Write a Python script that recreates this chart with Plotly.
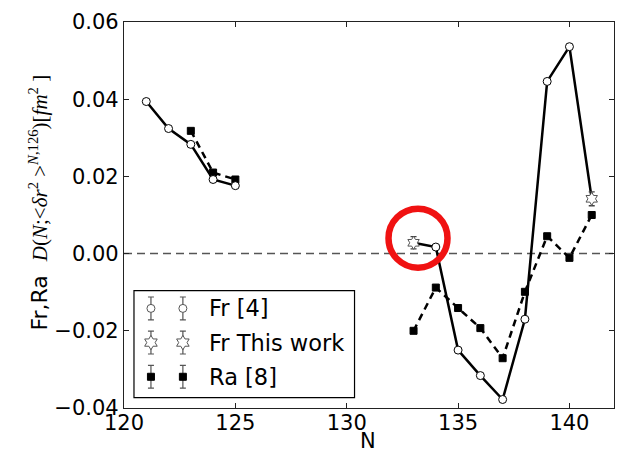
import plotly.graph_objects as go

# ---------------- data ----------------
fr_n = [121, 122, 123, 124, 125, 134, 135, 136, 137, 138, 139, 140]
fr_d = [0.0394, 0.0324, 0.0283, 0.0192, 0.0176, 0.0017, -0.0250, -0.0316, -0.0378, -0.0170, 0.0446, 0.0536]

tw_n = [133, 141]
tw_d = [0.0028, 0.0142]
tw_err = [0.0016, 0.0018]

ra_n = [123, 124, 125, 133, 134, 135, 136, 137, 138, 139, 140, 141]
ra_d = [0.0318, 0.0210, 0.0192, -0.0200, -0.0088, -0.0141, -0.0193, -0.0271, -0.0099, 0.0045, -0.0011, 0.0100]

x_ticks = [120, 125, 130, 135, 140]
y_ticks = [-0.04, -0.02, 0.00, 0.02, 0.04, 0.06]
y_ticklabels = ["\u22120.04", "\u22120.02", "0.00", "0.02", "0.04", "0.06"]

legend_labels = ["Fr [4]", "Fr This work", "Ra [8]"]

FONT = "DejaVu Sans"


def with_gaps(xs, ys):
    ox, oy = [], []
    for i, (a, b) in enumerate(zip(xs, ys)):
        if i > 0 and a - xs[i - 1] > 1:
            ox.append(None)
            oy.append(None)
        ox.append(a)
        oy.append(b)
    return ox, oy


fr_all = sorted(zip(fr_n + tw_n, fr_d + tw_d))
fr_line_x, fr_line_y = with_gaps([p[0] for p in fr_all], [p[1] for p in fr_all])
ra_line_x, ra_line_y = with_gaps(ra_n, ra_d)

fig = go.Figure()

# Ra dashed line + markers
fig.add_trace(go.Scatter(x=ra_line_x, y=ra_line_y, mode="lines",
                         line=dict(color="black", width=2.5, dash="7px,5px"),
                         showlegend=False, hoverinfo="skip"))
fig.add_trace(go.Scatter(x=ra_n, y=ra_d, mode="markers",
                         marker=dict(symbol="square", size=7, color="black",
                                     line=dict(color="black", width=1)),
                         showlegend=False))
# Fr solid line + markers
fig.add_trace(go.Scatter(x=fr_line_x, y=fr_line_y, mode="lines",
                         line=dict(color="black", width=2.5),
                         showlegend=False, hoverinfo="skip"))
fig.add_trace(go.Scatter(x=fr_n, y=fr_d, mode="markers",
                         marker=dict(symbol="circle", size=8, color="white",
                                     line=dict(color="black", width=1)),
                         showlegend=False))
# This work stars with error bars
fig.add_trace(go.Scatter(x=tw_n, y=tw_d, mode="markers",
                         error_y=dict(type="data", array=tw_err, color="#444444",
                                      thickness=1.3, width=3),
                         marker=dict(symbol="hexagram", size=10, color="white",
                                     line=dict(color="#555555", width=1)),
                         showlegend=False))

# ---------- hand-drawn legend on an overlay axis (pixel-like units) ----------
leg_rows = [308, 342.5, 377]
leg_cols = [151, 183]
leg_styles = [
    dict(symbol="circle", size=8, color="white", line=dict(color="#555555", width=1)),
    dict(symbol="hexagram", size=11, color="white", line=dict(color="#555555", width=1)),
    dict(symbol="square", size=7, color="black", line=dict(color="black", width=1)),
]
for row_y, sty in zip(leg_rows, leg_styles):
    fig.add_trace(go.Scatter(x=leg_cols, y=[row_y] * len(leg_cols), mode="markers",
                             xaxis="x2", yaxis="y2",
                             error_y=dict(type="constant", value=11.5, color="#555555",
                                          thickness=1.2, width=3),
                             marker=sty, showlegend=False, hoverinfo="skip"))

PL, PR, PT, PB = 124, 615, 19, 408.5
W, H = 625, 455

fig.update_layout(
    width=W, height=H,
    margin=dict(l=PL, r=W - PR, t=PT, b=H - PB, pad=0),
    paper_bgcolor="white", plot_bgcolor="white",
    showlegend=False,
    font=dict(family=FONT, size=21, color="black"),
    xaxis=dict(range=[120, 142], tickvals=x_ticks, ticktext=[str(v) for v in x_ticks],
               ticks="inside", ticklen=5, tickcolor="#222", showgrid=False, zeroline=False,
               showline=True, linecolor="#222", linewidth=1.2, mirror="ticks",
               ticklabelstandoff=-4,
               tickfont=dict(family=FONT, size=21)),
    yaxis=dict(range=[-0.04, 0.06], tickvals=y_ticks, ticktext=y_ticklabels,
               ticks="inside", ticklen=5, tickcolor="#222", showgrid=False, zeroline=False,
               showline=True, linecolor="#222", linewidth=1.2, mirror="ticks",
               tickfont=dict(family=FONT, size=21)),
    xaxis2=dict(range=[PL, PR], overlaying="x", visible=False, fixedrange=True),
    yaxis2=dict(range=[PB, PT], overlaying="y", visible=False, fixedrange=True),
)

# zero dashed line
fig.add_shape(type="line", xref="paper", yref="y", x0=0, x1=1, y0=0, y1=0,
              line=dict(color="#555555", width=1.5, dash="8px,5px"), layer="below")

# red circle highlight
fig.add_shape(type="circle", xref="x", yref="y", xsizemode="pixel", ysizemode="pixel",
              xanchor=133.2, yanchor=0.004, x0=-29.5, x1=29.5, y0=-29.5, y1=29.5,
              line=dict(color="#f01212", width=6.5))

# legend box
fig.add_shape(type="rect", xref="x2", yref="y2", x0=134, x1=355, y0=290, y1=398,
              line=dict(color="black", width=1.2), fillcolor="rgba(255,255,255,0)")
for row_y, lab in zip(leg_rows, legend_labels):
    fig.add_annotation(x=207, y=row_y, xref="x2", yref="y2", text=lab, showarrow=False,
                       xanchor="left", yanchor="middle",
                       font=dict(family=FONT, size=22.5, color="black"))

# axis titles
fig.add_annotation(x=(368 - PL) / (PR - PL), y=(PB - 442) / (PB - PT), xref="paper", yref="paper",
                   text="N", showarrow=False, xanchor="center", yanchor="middle",
                   font=dict(family=FONT, size=21))
serif = "font-family:'Liberation Serif';font-size:21px"
ylab = ("Fr,Ra&nbsp; <span style=\"" + serif + "\"><i>D</i>(<i>N</i>;&lt;<i>\u03b4r</i><sup>2</sup> &gt;"
        "<sup><i>N</i>,126</sup>)[<i>fm</i><sup>2</sup> ]</span>")
fig.add_annotation(x=(38 - PL) / (PR - PL), y=(PB - 201) / (PB - PT), xref="paper", yref="paper",
                   text=ylab, showarrow=False, textangle=-90, xanchor="center", yanchor="middle",
                   font=dict(family=FONT, size=22))

fig.write_html("out.html")
